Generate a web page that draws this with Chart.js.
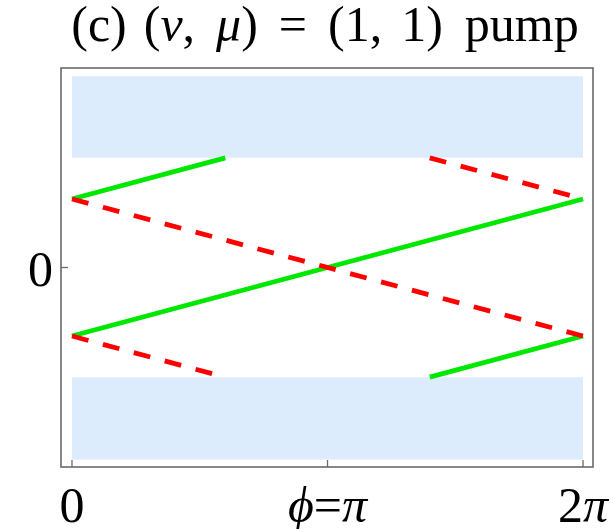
<!DOCTYPE html>
<html>
<head>
<meta charset="utf-8">
<script src="https://cdn.jsdelivr.net/npm/chart.js@4/dist/chart.umd.min.js"></script>
<style>
  html, body { margin: 0; padding: 0; background: #ffffff; }
  #wrap { width: 615px; height: 529px; }
</style>
</head>
<body>
<div id="wrap"><canvas id="c" width="615" height="529"></canvas></div>
<script>
// phase phi in units of pi; energies in units of the edge-state value at phi = 0
const xTickValues = [0, 1, 2];
const xTickLabels = [[['0', false]], [['\u03D5', true], ['=', false], ['\u03C0', true]], [['2', false], ['\u03C0', true]]];
const yTickValues = [0];
const yTickLabels = ['0'];

// bulk bands (shaded)
const bandX = [0, 2];
const upperBand = [1.6, 2.79];
const lowerBand = [-2.8, -1.6];

// edge states, left edge (solid green)
const greenAX = [0, 0.6], greenAY = [1, 1.6];
const greenBX = [0, 2],   greenBY = [-1, 1];
const greenCX = [1.4, 2], greenCY = [-1.6, -1];

// edge states, right edge (dashed red)
const redAX = [0, 2],   redAY = [1, -1];
const redBX = [0, 0.6], redBY = [-1, -1.6];
const redCX = [1.4, 2], redCY = [1.6, 1];

// title words; italic runs are marked true
const titleWords = [
  [['(c)', false]],
  [['(', false], ['\u03BD', true], [',', false]],
  [['\u03BC', true], [')', false]],
  [['=', false]],
  [['(1,', false]],
  [['1)', false]],
  [['pump', false]]
];
const titleGaps = [17, 21, 21, 21, 19, 22];

const GREEN = 'rgb(0,232,0)';
const RED = 'rgb(255,0,0)';
const BAND = 'rgb(221,236,253)';
const FRAME = '#6a6a6a';
const SERIF = '"Liberation Serif", "Times New Roman", serif';

function pts(xs, ys) { return xs.map((x, i) => ({ x: x, y: ys[i] })); }

function solid(xs, ys, order) {
  return { data: pts(xs, ys), borderColor: GREEN, borderWidth: 4.8, pointRadius: 0,
           fill: false, borderCapStyle: 'butt', order: order };
}
function dashed(xs, ys, order) {
  return { data: pts(xs, ys), borderColor: RED, borderWidth: 4.8, pointRadius: 0,
           fill: false, borderDash: [17, 15], borderCapStyle: 'butt', order: order };
}
function band(lims, order) {
  return { data: bandX.map(x => ({ x: x, y: lims[1] })), borderWidth: 0, borderColor: 'rgba(0,0,0,0)',
           pointRadius: 0, backgroundColor: BAND, fill: { value: lims[0] }, order: order };
}

function runsWidth(ctx, runs, size) {
  let w = 0;
  runs.forEach(r => { ctx.font = (r[1] ? 'italic ' : '') + size + 'px ' + SERIF; w += ctx.measureText(r[0]).width; });
  return w;
}

function drawRuns(ctx, runs, x0, baseline, size) {
  let x = x0;
  ctx.textBaseline = 'alphabetic';
  ctx.textAlign = 'left';
  runs.forEach(r => {
    ctx.font = (r[1] ? 'italic ' : '') + size + 'px ' + SERIF;
    ctx.fillText(r[0], x, baseline);
    x += ctx.measureText(r[0]).width;
  });
}

function drawRunsAligned(ctx, runs, cx, baseline, size, align) {
  const w = runsWidth(ctx, runs, size);
  drawRuns(ctx, runs, align === 'right' ? cx - w : cx - w / 2, baseline, size);
}

const framePlugin = {
  id: 'frameAndLabels',
  afterDraw(chart) {
    const ctx = chart.ctx;
    const a = chart.chartArea;
    const xs = chart.scales.x, ys = chart.scales.y;
    ctx.save();
    ctx.strokeStyle = FRAME;
    ctx.lineWidth = 1.6;
    ctx.strokeRect(a.left, a.top, a.right - a.left, a.bottom - a.top);
    // inward ticks
    ctx.lineWidth = 1.3;
    xTickValues.forEach(v => {
      const px = xs.getPixelForValue(v);
      ctx.beginPath(); ctx.moveTo(px, a.bottom); ctx.lineTo(px, a.bottom - 7); ctx.stroke();
    });
    yTickValues.forEach(v => {
      const py = ys.getPixelForValue(v);
      ctx.beginPath(); ctx.moveTo(a.left, py); ctx.lineTo(a.left + 7, py); ctx.stroke();
    });
    // tick labels
    ctx.fillStyle = '#000';
    xTickValues.forEach((v, i) => {
      drawRunsAligned(ctx, xTickLabels[i], xs.getPixelForValue(v), a.bottom + 55, 50, 'center');
    });
    yTickValues.forEach((v, i) => {
      drawRunsAligned(ctx, [[yTickLabels[i], false]], a.left - 8, ys.getPixelForValue(v) + 18, 50, 'right');
    });
    // title, word by word
    const tSize = 50;
    const widths = titleWords.map(w => runsWidth(ctx, w, tSize));
    const total = widths.reduce((s, w) => s + w, 0) + titleGaps.reduce((s, g) => s + g, 0);
    let x = 325 - total / 2;
    titleWords.forEach((w, i) => { drawRuns(ctx, w, x, 41, tSize); x += widths[i] + (titleGaps[i] || 0); });
    ctx.restore();
  }
};

new Chart(document.getElementById('c'), {
  type: 'line',
  data: {
    datasets: [
      dashed(redAX, redAY, 1),
      dashed(redBX, redBY, 1),
      dashed(redCX, redCY, 1),
      solid(greenAX, greenAY, 2),
      solid(greenBX, greenBY, 2),
      solid(greenCX, greenCY, 2),
      band(upperBand, 3),
      band(lowerBand, 3)
    ]
  },
  options: {
    responsive: false,
    animation: false,
    events: [],
    layout: { padding: { left: 61, top: 68, right: 22, bottom: 62 } },
    plugins: { legend: { display: false }, tooltip: { enabled: false }, title: { display: false } },
    scales: {
      x: { type: 'linear', display: false, min: -0.043, max: 2.039 },
      y: { type: 'linear', display: false, min: -2.91, max: 2.91 }
    }
  },
  plugins: [framePlugin]
});
</script>
</body>
</html>
